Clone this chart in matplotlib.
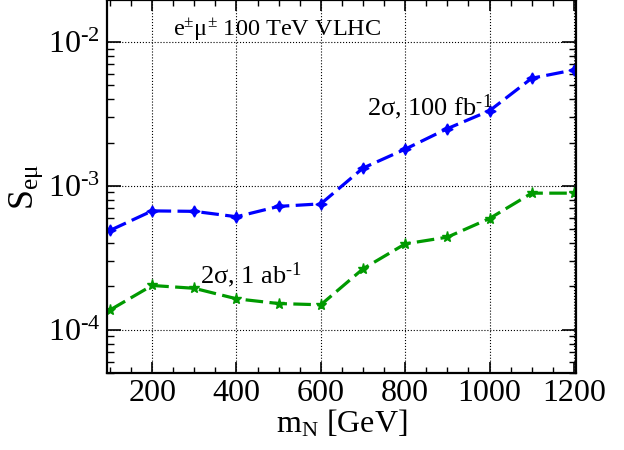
import numpy as np
import matplotlib
matplotlib.use("Agg")
import matplotlib.pyplot as plt
from matplotlib.ticker import MultipleLocator, LogLocator, FuncFormatter, NullFormatter

plt.rcParams['font.family'] = ['Liberation Serif', 'DejaVu Serif']
plt.rcParams['mathtext.fontset'] = 'custom'
plt.rcParams['mathtext.rm'] = 'Liberation Serif'
plt.rcParams['mathtext.it'] = 'Liberation Serif:italic'
plt.rcParams['mathtext.bf'] = 'Liberation Serif:bold'
plt.rcParams['mathtext.fallback'] = 'stix'

# masses (GeV)
m_N = [100, 200, 300, 400, 500, 600, 700, 800, 900, 1000, 1100, 1200]
# 2 sigma, 100 fb^-1
s_100fb = [4.9e-4, 6.7e-4, 6.65e-4, 6.1e-4, 7.2e-4, 7.5e-4,
           1.33e-3, 1.8e-3, 2.5e-3, 3.33e-3, 5.6e-3, 6.4e-3]
# 2 sigma, 1 ab^-1
s_1ab = [1.37e-4, 2.03e-4, 1.94e-4, 1.64e-4, 1.52e-4, 1.49e-4,
         2.65e-4, 3.95e-4, 4.4e-4, 5.93e-4, 8.9e-4, 8.9e-4]

fig = plt.figure(figsize=(6.24, 4.5), dpi=100)
ax = fig.add_axes([107/624, 1 - 373/450, 469/624, 373/450])

ax.plot(m_N, s_100fb, color='#0000ff', lw=2.3, dashes=(5.5, 2),
        marker=(4, 1, 0), ms=8)
ax.plot(m_N, s_1ab, color='#009a00', lw=2.3, dashes=(5.5, 2),
        marker='*', ms=8)

ax.set_yscale('log')
ax.set_xlim(93, 1205)
ax.set_ylim(5e-5, 1.96e-2)

ax.xaxis.set_major_locator(MultipleLocator(200))
ax.xaxis.set_minor_locator(MultipleLocator(50))
ax.yaxis.set_major_locator(LogLocator(base=10))
ax.yaxis.set_minor_locator(LogLocator(base=10, subs=np.arange(2, 10)))
ax.yaxis.set_minor_formatter(NullFormatter())

def log_fmt(v, pos):
    e = int(round(np.log10(v)))
    return r'$10^{‐%d}$' % abs(e)

ax.yaxis.set_major_formatter(FuncFormatter(log_fmt))

ax.tick_params(which='both', direction='in', top=True, right=True)
ax.tick_params(axis='x', which='major', length=8, width=1.2, labelsize=23, pad=4)
ax.tick_params(axis='x', which='minor', length=4, width=1.0)
ax.tick_params(axis='y', which='major', length=10, width=1.2, labelsize=23, pad=5)
ax.tick_params(axis='y', which='minor', length=5, width=1.0)
for sp in ax.spines.values():
    sp.set_linewidth(1.6)

ax.grid(True, which='major', color='black', linestyle=':', linewidth=0.8)

ax.set_xlabel(r'm$_{\mathrm{N}}$ [GeV]', fontsize=23, labelpad=0)
ax.set_ylabel(r'S$_{\mathrm{e\mu}}$', fontsize=26, labelpad=2)

ax.text(0.141, 0.905, r'e$^{\pm}$μ$^{\pm}$ 100 TeV VLHC', transform=ax.transAxes,
        fontsize=17.5)
ax.text(0.555, 0.69, r'2σ, 100 fb$^{‐1}$', transform=ax.transAxes, fontsize=19)
ax.text(0.198, 0.24, r'2σ, 1 ab$^{‐1}$', transform=ax.transAxes, fontsize=19)

fig.savefig('out.png', dpi=100)
